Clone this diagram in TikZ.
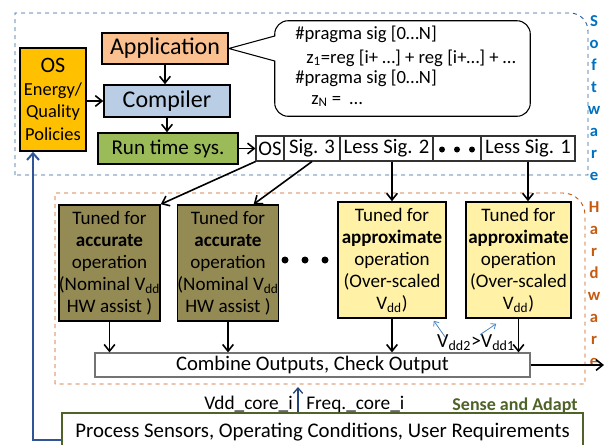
\documentclass[tikz,border=0pt]{standalone}
\usepackage{fontspec}
\setmainfont{Carlito}
\usetikzlibrary{arrows.meta,calc}
\definecolor{osgold}{HTML}{FFC000}
\definecolor{appbg}{HTML}{FAC090}
\definecolor{compbg}{HTML}{B9CDE5}
\definecolor{rtsbg}{HTML}{9BBB59}
\definecolor{accbg}{HTML}{948A54}
\definecolor{apxbg}{HTML}{FFF2A6}
\definecolor{swblue}{HTML}{0070C0}
\definecolor{swline}{HTML}{2E5F96}
\definecolor{hwline}{HTML}{C55A11}
\definecolor{senseg}{HTML}{4F6228}
\definecolor{fbblue}{HTML}{2F5597}
\definecolor{vdblue}{HTML}{4A86C8}
\begin{document}
\begin{tikzpicture}[x=0.75pt,y=-0.75pt,
	blk/.style={draw,line width=1.2pt,align=center,inner sep=0pt},
	cell/.style={draw=black!80,line width=0.8pt,minimum height=18.75pt,inner sep=0pt,font=\fontsize{15.5}{18}\selectfont},
	tuned/.style={blk,minimum height=87pt,font=\fontsize{14.3}{16.5}\selectfont},
	code/.style={anchor=base west,inner sep=0pt,font=\fontsize{14}{16}\selectfont},
	side/.style={align=center,inner sep=0pt,font=\fontsize{12.5}{16.5}\selectfont\bfseries},
	arr/.style={line width=1.2pt,-{Straight Barb[length=5pt,width=8pt]}},
	vdarr/.style={vdblue,line width=0.6pt,-{Straight Barb[length=3pt,width=5pt]}}]
			    \clip (0,0) rectangle (606,444);
			    \draw [swline,dashed,line width=0.7pt] (15,175) -- (15,13) -- (570,13) arc [start angle=-90,end angle=0,radius=18] -- (588,175) -- cycle;
			    \draw [hwline,dashed,line width=0.7pt] (55,384) -- (55,193) -- (563,193) arc [start angle=-90,end angle=0,radius=22] -- (585,384) -- cycle;
			    \node [side,text=swblue] (swlab) at (594,98) {S\\o\\f\\t\\w\\a\\r\\e};
			    \node [side,text=hwline] (hwlab) at (594,284) {H\\a\\r\\d\\w\\a\\r\\e};
			    \node [blk,fill=osgold,minimum width=49.5pt,minimum height=77.25pt,font=\fontsize{13.8}{17}\selectfont] (os) at (53,99.5) {{\fontsize{16.5}{17}\selectfont OS}\\Energy/\\Quality\\Policies};
			    \node [blk,fill=appbg,minimum width=94.5pt,minimum height=23.25pt,font=\fontsize{18}{20}\selectfont] (app) at (165,48.5) {Application};
			    \node [blk,fill=compbg,minimum width=94.5pt,minimum height=24pt,font=\fontsize{18}{20}\selectfont] (comp) at (167,101) {Compiler};
			    \node [blk,fill=rtsbg,minimum width=105pt,minimum height=23.25pt,font=\fontsize{15.8}{18}\selectfont] (rts) at (168,148.5) {Run time sys.};
			    \draw [arr] (app.south) -- (app.south |- comp.north);
			    \draw [arr] (comp.south) -- (comp.south |- rts.north);
			    \draw [arr] (os.east |- comp.west) -- (comp.west);
			    \node [minimum width=191.25pt,minimum height=71.25pt] (bubble) at (402.5,68.5) {};
			    \draw [line width=0.8pt,fill=white] (bubble.west |- 0,61) -- (app.east) -- (bubble.west |- 0,36) [rounded corners=10pt] -- (bubble.north west) -- (bubble.north east) -- (bubble.south east) -- (bubble.south west) [sharp corners] -- cycle;
			    \node [code] (prag1) at (295,39) {\#pragma sig [0…N]};
			    \node [code] (z1) at (306,63) {z\textsubscript{1}=reg [i+ …] + reg [i+…] + …};
			    \node [code] (prag2) at (295,83) {\#pragma sig [0…N]};
			    \node [code] (zn) at (311,104) {z\textsubscript{N} =~~…};
			    \node [cell,minimum width=21pt] (oscell) at (270,148.5) {OS};
			    \node [cell,minimum width=42pt] (sig3) at (312,148.5) {Sig. 3};
			    \node [cell,minimum width=69.75pt] (less2) at (386.5,148.5) {Less Sig. 2};
			    \node [cell,minimum width=36pt] (dcell) at (457,148.5) {};
			    \node [cell,minimum width=70.5pt] (less1) at (528,148.5) {Less Sig. 1};
			    \foreach \d in {-15,0,15} \fill ($(dcell)+(\d,1)$) circle [radius=3];
			    \draw [arr] (rts.east) -- (oscell.west);
			    \node [tuned,fill=accbg,minimum width=71.25pt] (acc1) at (109.5,263) {Tuned for\\\textbf{accurate}\\operation\\(Nominal V\textsubscript{dd}\\HW assist )};
			    \node [tuned,fill=accbg,minimum width=71.25pt] (acc2) at (228,263) {Tuned for\\\textbf{accurate}\\operation\\(Nominal V\textsubscript{dd}\\HW assist )};
			    \node [tuned,fill=apxbg,minimum width=81pt] (apx1) at (392,260) {Tuned for\\\textbf{approximate}\\operation\\(Over-scaled\\V\textsubscript{dd})};
			    \node [tuned,fill=apxbg,minimum width=78.75pt] (apx2) at (518.5,260) {Tuned for\\\textbf{approximate}\\operation\\(Over-scaled\\V\textsubscript{dd})};
			    \foreach \x in {285,305,325} \fill (\x,260) circle [radius=3.5];
			    \draw [arr] (oscell.south west) -- (acc1.north east);
			    \draw [arr] (sig3.south) -- ($(acc2.north)!0.5!(acc2.north east)$);
			    \draw [arr] (apx1.north |- less2.south) -- (apx1.north);
			    \draw [arr] (less1.south) -- (less1.south |- apx2.north);
			    \node [draw=black!55,line width=0.9pt,fill=white,minimum width=326.25pt,minimum height=18pt,inner sep=0pt,font=\fontsize{15.5}{18}\selectfont] (comb) at (312.5,365) {Combine Outputs, Check Output};
			    \draw [arr] (acc1.south) -- (acc1.south |- comb.north);
			    \draw [arr] (acc2.south) -- (acc2.south |- comb.north);
			    \draw [arr] (apx1.south) -- (apx1.south |- comb.north);
			    \draw [arr] (apx2.south) -- (apx2.south |- comb.north);
			    \node [inner sep=0pt,font=\fontsize{15}{18}\selectfont] (vlab) at (476,343) {V\textsubscript{dd2}>V\textsubscript{dd1}};
			    \draw [vdarr] ($(vlab.north west)+(8,2)$) -- ($(apx1.south east)+(-13,2)$);
			    \draw [vdarr] ($(vlab.north)+(4,0)$) -- ($(apx2.south west)+(31,5)$);
			    \coordinate (out) at (604,365);
			    \draw [arr] (comb.east) -- (out);
			    \node [draw=senseg,line width=1.5pt,fill=white,minimum width=390.75pt,minimum height=28.5pt,inner sep=0pt,font=\fontsize{15.6}{18}\selectfont] (sense) at (322.5,432) {Process Sensors, Operating Conditions, User Requirements};
			    \node [anchor=base east,inner sep=0pt,font=\fontsize{14.5}{17}\selectfont] (vddlab) at (293,409) {Vdd\_core\_i};
			    \node [anchor=base west,inner sep=0pt,font=\fontsize{14.5}{17}\selectfont] (freqlab) at (306,409) {Freq.\_core\_i};
			    \node [anchor=base,inner sep=0pt,text=senseg,font=\fontsize{13.5}{16}\selectfont\bfseries] (senselab) at (515,410) {Sense and Adapt};
			    \coordinate (vin) at (298,387);
			    \draw [fbblue!80!black,line width=1pt,-{Straight Barb[length=4pt,width=7pt]}] (vin |- sense.north) -- (vin);
			    \coordinate (fb) at (33,440);
			    \draw [fbblue,line width=1.5pt,-{Straight Barb[length=5pt,width=9pt]}] (sense.west |- fb) -- (fb) -- (fb |- os.south);
			\end{tikzpicture}
\end{document}
